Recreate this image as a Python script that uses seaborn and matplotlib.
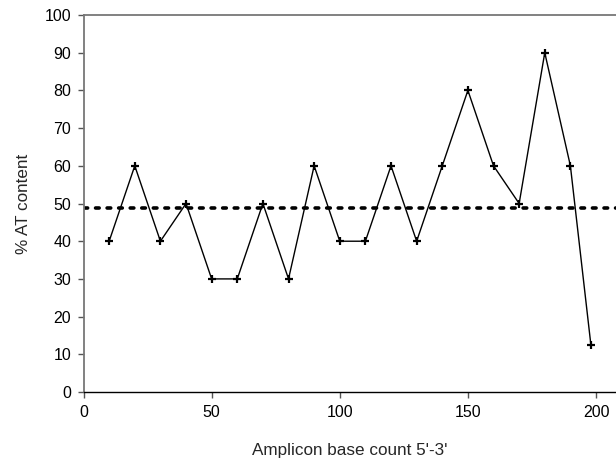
import matplotlib
matplotlib.use("Agg")
import matplotlib.pyplot as plt
import seaborn as sns
import pandas as pd

# AT content per amplicon window
base_count = [10, 20, 30, 40, 50, 60, 70, 80, 90, 100,
              110, 120, 130, 140, 150, 160, 170, 180, 190, 198]
at_content = [40, 60, 40, 50, 30, 30, 50, 30, 60, 40,
              40, 60, 40, 60, 80, 60, 50, 90, 60, 12.5]
mean_at = 48.8

x_ticks = [0, 50, 100, 150, 200]
y_ticks = list(range(0, 101, 10))

df = pd.DataFrame({"base": base_count, "at": at_content})

sns.set_theme(style="white")
plt.rcParams["font.family"] = ["Liberation Sans", "DejaVu Sans"]

fig = plt.figure(figsize=(6.16, 4.62), dpi=100)
ax = fig.add_axes([0.1356, 0.1515, 0.8644, 0.816])

sns.lineplot(data=df, x="base", y="at", ax=ax, color="black", linewidth=1.0,
             marker="+", markersize=6, markeredgewidth=1.6, markeredgecolor="black")
ax.axhline(mean_at, color="black", linestyle=(0, (1, 2.2)), linewidth=2.6,
           dash_capstyle="round")

ax.set_xlim(0, 207.8)
ax.set_ylim(0, 100)
ax.set_xticks(x_ticks)
ax.set_yticks(y_ticks)
ax.tick_params(axis="both", direction="out", length=4, width=1,
               colors="#555555", labelcolor="black", labelsize=11.5,
               bottom=True, left=True, pad=5)

for side in ("left", "top"):
    ax.spines[side].set_color("#777777")
    ax.spines[side].set_linewidth(1.3)
ax.spines["bottom"].set_color("black")
ax.spines["bottom"].set_linewidth(1.0)
ax.spines["right"].set_visible(False)

ax.set_xlabel("Amplicon base count 5'-3'", fontsize=12.3, labelpad=17)
ax.set_ylabel("% AT content", fontsize=12.3, labelpad=10)

fig.savefig("out.png", dpi=100)
